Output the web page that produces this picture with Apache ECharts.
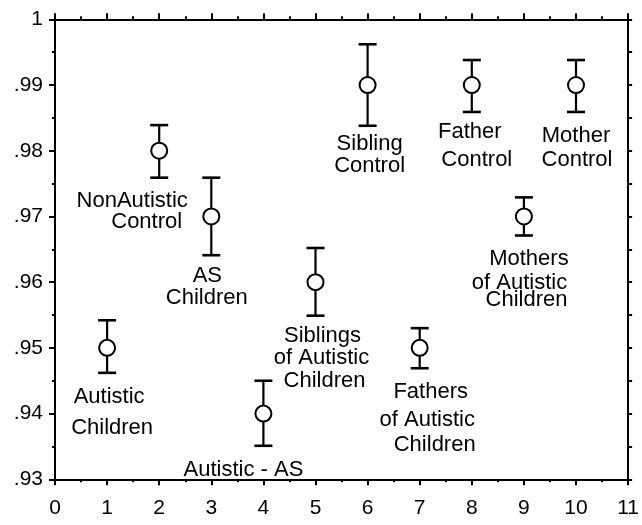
<!DOCTYPE html>
<html>
<head>
<meta charset="utf-8">
<script src="https://cdn.jsdelivr.net/npm/echarts@6/dist/echarts.min.js"></script>
<style>
html,body{margin:0;padding:0;background:#fff;}
#chart{width:642px;height:525px;}
</style>
</head>
<body>
<div id="chart"></div>
<script>
// ---- data ----
const groupX = [1, 2, 3, 4, 5, 6, 7, 8, 9, 10];
const groupLabels = [
  'Autistic\nChildren',
  'NonAutistic\nControl',
  'AS\nChildren',
  'Autistic - AS',
  'Siblings\nof Autistic\nChildren',
  'Sibling\nControl',
  'Fathers\nof Autistic\nChildren',
  'Father\nControl',
  'Mothers\nof Autistic\nChildren',
  'Mother\nControl'
];
const means = [0.95, 0.98, 0.97, 0.94, 0.96, 0.99, 0.95, 0.99, 0.97, 0.99];
const upper = [0.9542, 0.9839, 0.9759, 0.9450, 0.9652, 0.9962, 0.9530, 0.9938, 0.9729, 0.9938];
const lower = [0.9462, 0.9759, 0.9641, 0.9351, 0.9549, 0.9838, 0.9469, 0.9859, 0.9671, 0.9859];
const xTicks = [0, 1, 2, 3, 4, 5, 6, 7, 8, 9, 10, 11];
const yTickLabels = ['.93', '.94', '.95', '.96', '.97', '.98', '.99', '1'];

// ---- label placement (pixel offsets of each text line from its point) ----
const labelOffsets = [
  [[2, 49], [5, 80]],
  [[-27, 50], [-12.5, 71]],
  [[-4, 59], [-4.5, 81]],
  [[-20, 56]],
  [[7, 54], [6, 76], [9, 99]],
  [[2, 59], [2, 80.5]],
  [[11, 44], [7.5, 72.5], [15, 97]],
  [[-2, 47], [5, 75]],
  [[5, 42.5], [-4.4, 66], [2.6, 83]],
  [[0, 51], [1, 75]]
];

const FONT = '"Liberation Sans", Arial, Helvetica, sans-serif';
const BLACK = '#000';

const chart = echarts.init(document.getElementById('chart'), null, {renderer: 'canvas'});

const tickCommon = {
  axisLine: {show: true, onZero: false, lineStyle: {color: BLACK, width: 2}},
  axisTick: {show: true, inside: false, length: 6, lineStyle: {color: BLACK, width: 2}},
  minorTick: {show: true, splitNumber: 2, length: 3, lineStyle: {color: BLACK, width: 2}},
  splitLine: {show: false},
  minorSplitLine: {show: false}
};

const option = {
  backgroundColor: '#fff',
  animation: false,
  grid: {left: 55, right: 11.5, top: 19.3, bottom: 45.7, containLabel: false},
  xAxis: [
    Object.assign({
      type: 'value', position: 'bottom', min: xTicks[0], max: xTicks[xTicks.length - 1], interval: 1,
      axisLabel: {show: true, margin: 18, color: BLACK, fontSize: 21, fontFamily: FONT,
        formatter: v => String(xTicks[Math.round(v)])}
    }, tickCommon),
    Object.assign({
      type: 'value', position: 'top', min: xTicks[0], max: xTicks[xTicks.length - 1], interval: 1,
      axisLabel: {show: false}
    }, tickCommon)
  ],
  yAxis: [
    Object.assign({
      type: 'value', position: 'left', min: 0.93, max: 1, interval: 0.01,
      axisLabel: {show: true, margin: 12, color: BLACK, fontSize: 21, fontFamily: FONT,
        formatter: v => yTickLabels[Math.round((v - 0.93) / 0.01)]}
    }, tickCommon),
    Object.assign({}, tickCommon, {
      type: 'value', position: 'right', min: 0.93, max: 1, interval: 0.005,
      axisTick: {show: true, inside: false, length: 4, lineStyle: {color: BLACK, width: 2}},
      minorTick: {show: false},
      axisLabel: {show: false}
    })
  ],
  series: [
    {
      type: 'custom',
      name: 'errorbars',
      xAxisIndex: 0, yAxisIndex: 0,
      z: 2,
      data: groupX.map((x, i) => [x, lower[i], upper[i]]),
      renderItem: function (params, api) {
        const x = api.value(0);
        const lo = api.coord([x, api.value(1)]);
        const hi = api.coord([x, api.value(2)]);
        const hw = 9;
        const style = {stroke: BLACK, lineWidth: 2.2, fill: null};
        return {
          type: 'group',
          children: [
            {type: 'line', shape: {x1: lo[0], y1: lo[1], x2: hi[0], y2: hi[1]}, style: style},
            {type: 'line', shape: {x1: hi[0] - hw, y1: hi[1], x2: hi[0] + hw, y2: hi[1]}, style: {stroke: BLACK, lineWidth: 2.6}},
            {type: 'line', shape: {x1: lo[0] - hw, y1: lo[1], x2: lo[0] + hw, y2: lo[1]}, style: {stroke: BLACK, lineWidth: 2.6}}
          ]
        };
      }
    },
    {
      type: 'scatter',
      name: 'means',
      xAxisIndex: 0, yAxisIndex: 0,
      z: 3,
      symbol: 'circle',
      symbolSize: 16,
      itemStyle: {color: '#fff', borderColor: BLACK, borderWidth: 2, opacity: 1},
      data: groupX.map((x, i) => [x, means[i]])
    },
    {
      type: 'custom',
      name: 'labels',
      xAxisIndex: 0, yAxisIndex: 0,
      z: 4,
      data: groupX.map((x, i) => [x, means[i]]),
      renderItem: function (params, api) {
        const p = api.coord([api.value(0), api.value(1)]);
        const idx = params.dataIndex;
        const lines = groupLabels[idx].split('\n');
        const offs = labelOffsets[idx];
        return {
          type: 'group',
          children: lines.map((ln, k) => ({
            type: 'text',
            x: p[0] + offs[k][0],
            y: p[1] + offs[k][1],
            style: {
              text: ln,
              fill: BLACK,
              font: '22px ' + FONT,
              align: 'center',
              verticalAlign: 'middle'
            }
          }))
        };
      }
    }
  ]
};

chart.setOption(option);
</script>
</body>
</html>
